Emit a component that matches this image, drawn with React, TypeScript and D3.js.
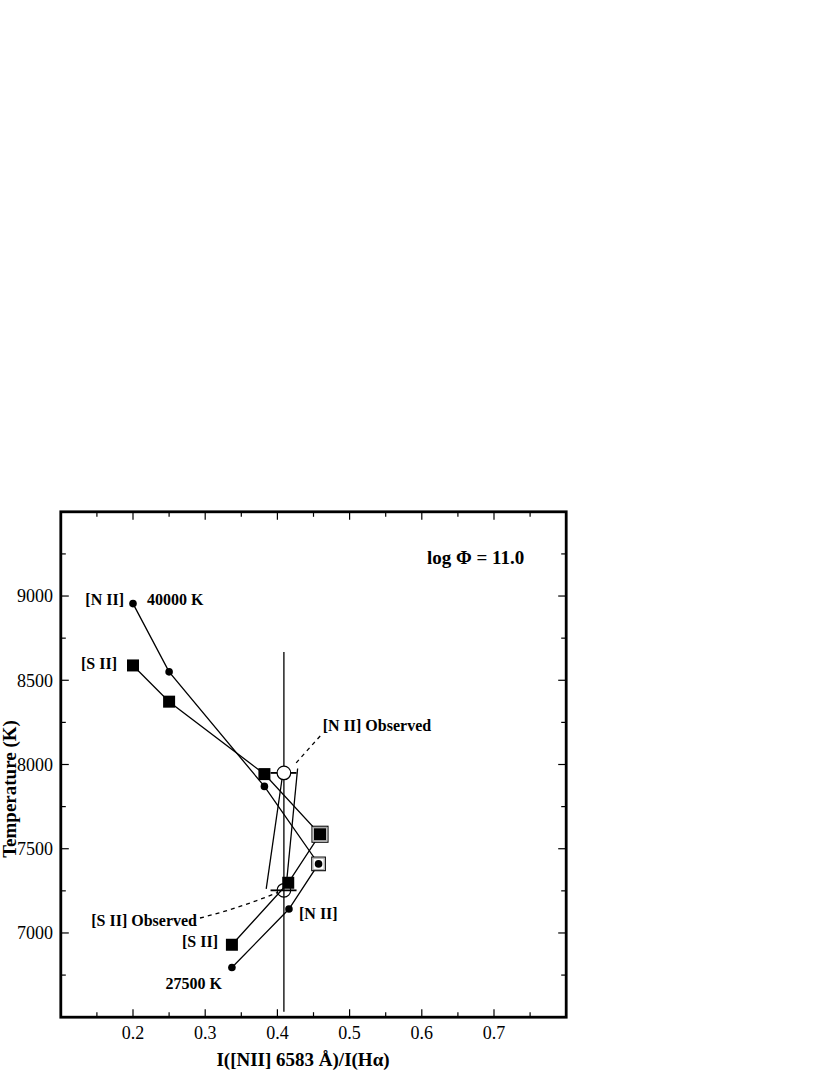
import React from 'react';
import * as d3 from 'd3';

// model grid, 40000 K down to 27500 K
const nIIRatio = [0.2, 0.25, 0.382, 0.457, 0.416, 0.337];
const nIITemp = [8955, 8550, 7870, 7410, 7142, 6795];
const sIIRatio = [0.2, 0.25, 0.382, 0.459, 0.415, 0.337];
const sIITemp = [8588, 8373, 7943, 7586, 7298, 6930];
const boxedIndex = 3;

// observed values
const obsRatio = [0.409, 0.409];
const obsTemp = [7950, 7253];
const obsErrLo = [0.3905, 0.3905];
const obsErrHi = [0.4265, 0.4265];

const obsLineRatio = 0.409;
const obsLineTemp = [6533, 8668];
const slantA = [[0.428, 7976], [0.4125, 7292]];
const slantB = [[0.4065, 7917], [0.3845, 7262]];

const xTickLabels = [0.2, 0.3, 0.4, 0.5, 0.6, 0.7];
const yTickLabels = [7000, 7500, 8000, 8500, 9000];

const W = 830;
const H = 1075;
const frame = { left: 60.8, right: 566.2, top: 511.8, bottom: 1017.2 };
const serif = '"Liberation Serif", "Times New Roman", serif';

export default function App() {
  const x = d3.scaleLinear().domain([0.1, 0.8]).range([frame.left, frame.right]);
  const y = d3.scaleLinear().domain([6500, 9500]).range([frame.bottom, frame.top]);

  const line = d3.line<number[]>().x((d) => x(d[0])).y((d) => y(d[1]));
  const nII = nIIRatio.map((r, i) => [r, nIITemp[i]]);
  const sII = sIIRatio.map((r, i) => [r, sIITemp[i]]);

  const xMinor = d3.range(0.15, 0.8, 0.05).map((v) => +v.toFixed(2));
  const yMinor = d3.range(6750, 9500, 250);
  const isMajorX = (v: number) => Math.abs(v * 10 - Math.round(v * 10)) < 1e-6;
  const isMajorY = (v: number) => v % 500 === 0;

  const lw = 1.3;
  const sq = 12;

  // dashed leaders
  const nIILeader = `M${x(0.426)},${y(8010)} L${x(0.4615)},${y(8180)}`;
  const sIILeader = d3.path();
  sIILeader.moveTo(200, 918);
  sIILeader.quadraticCurveTo(240, 908, x(0.4), y(7240));

  const bxS = x(sIIRatio[boxedIndex]);
  const byS = y(sIITemp[boxedIndex]);
  const bxN = x(nIIRatio[boxedIndex]);
  const byN = y(nIITemp[boxedIndex]);

  return (
    <svg width={W} height={H} style={{ position: 'absolute', left: 0, top: 0, background: '#fff' }} fontFamily={serif}>
      {/* ticks, inward on all four sides */}
      <g stroke="#000" strokeWidth={1.2}>
        {xMinor.map((v) => {
          const len = isMajorX(v) ? 8 : 5;
          return (
            <g key={'xt' + v}>
              <line x1={x(v)} x2={x(v)} y1={frame.bottom} y2={frame.bottom - len} />
              <line x1={x(v)} x2={x(v)} y1={frame.top} y2={frame.top + len} />
            </g>
          );
        })}
        {yMinor.map((v) => {
          const len = isMajorY(v) ? 8 : 5;
          return (
            <g key={'yt' + v}>
              <line x1={frame.left} x2={frame.left + len} y1={y(v)} y2={y(v)} />
              <line x1={frame.right} x2={frame.right - len} y1={y(v)} y2={y(v)} />
            </g>
          );
        })}
      </g>
      <rect x={frame.left} y={frame.top} width={frame.right - frame.left} height={frame.bottom - frame.top}
        fill="none" stroke="#000" strokeWidth={2.8} />

      {/* tick labels */}
      {xTickLabels.map((v) => (
        <text key={'xl' + v} x={x(v)} y={1039} fontSize={18} textAnchor="middle">{v.toFixed(1)}</text>
      ))}
      {yTickLabels.map((v) => (
        <text key={'yl' + v} x={53} y={y(v) + 6.3} fontSize={18} textAnchor="end">{v}</text>
      ))}

      {/* axis titles */}
      <text x={303} y={1066} fontSize={19} fontWeight="bold" textAnchor="middle">I([NII] 6583 Å)/I(Hα)</text>
      <text transform={`translate(16,789) rotate(-90)`} fontSize={19} fontWeight="bold" textAnchor="middle">Temperature (K)</text>

      {/* observed guide lines */}
      <g stroke="#000" strokeWidth={lw} fill="none">
        <line x1={x(obsLineRatio)} x2={x(obsLineRatio)} y1={y(obsLineTemp[0])} y2={y(obsLineTemp[1])} />
        <path d={line(slantA) || ''} />
        <path d={line(slantB) || ''} />
        <path d={nIILeader} strokeDasharray="4,4" />
        <path d={sIILeader.toString()} strokeDasharray="4,4" />
      </g>

      {/* model tracks */}
      <path d={line(sII) || ''} fill="none" stroke="#000" strokeWidth={lw} />
      <path d={line(nII) || ''} fill="none" stroke="#000" strokeWidth={lw} />

      {/* observed error bars and circles */}
      {obsRatio.map((r, i) => (
        <g key={'obs' + i} stroke="#000" strokeWidth={1.8}>
          <line x1={x(obsErrLo[i])} x2={x(obsErrHi[i])} y1={y(obsTemp[i])} y2={y(obsTemp[i])} />
          <circle cx={x(r)} cy={y(obsTemp[i])} r={6.8} fill={i === 0 ? '#fff' : 'none'} strokeWidth={1.2} />
        </g>
      ))}

      {/* box frames around the turning points */}
      <g>
        <rect x={bxS - 8} y={byS - 8} width={16} height={16} fill="#fff" stroke="#000" strokeWidth={1.1} />
        <rect x={bxS - 6.8} y={byS - 6.8} width={13.6} height={13.6} fill="none" stroke="#aaa" strokeWidth={1.1} />
        <rect x={bxN - 6.8} y={byN - 6.8} width={13.6} height={13.6} fill="#fff" stroke="#000" strokeWidth={1.1} />
        <rect x={bxN - 5.6} y={byN - 5.6} width={11.2} height={11.2} fill="none" stroke="#aaa" strokeWidth={1.1} />
      </g>

      {/* markers */}
      {sII.map((d, i) => (
        <rect key={'s' + i} x={x(d[0]) - sq / 2} y={y(d[1]) - sq / 2} width={sq} height={sq} fill="#000" />
      ))}
      {nII.map((d, i) => (
        <circle key={'n' + i} cx={x(d[0])} cy={y(d[1])} r={3.8} fill="#000" />
      ))}

      {/* labels */}
      <g fontSize={16} fontWeight="bold">
        <text x={124} y={605} textAnchor="end">[N II]</text>
        <text x={147} y={605}>40000 K</text>
        <text x={117} y={669} textAnchor="end">[S II]</text>
        <text x={322.7} y={731}>[N II] Observed</text>
        <text x={299} y={919}>[N II]</text>
        <text x={197} y={926} textAnchor="end">[S II] Observed</text>
        <text x={218} y={947} textAnchor="end">[S II]</text>
        <text x={222} y={989} textAnchor="end">27500 K</text>
        <text x={427} y={564} fontSize={19}>log Φ = 11.0</text>
      </g>
    </svg>
  );
}
